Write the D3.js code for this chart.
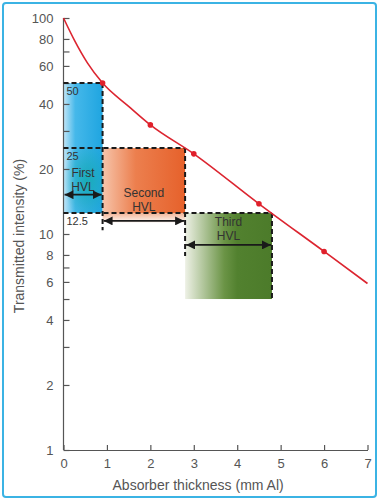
<!DOCTYPE html>
<head>
    <meta charset="utf-8">
    <script src="https://d3js.org/d3.v7.min.js"></script>
    <style>
        body { margin: 0; background: #fff; }
        text { font-family: "Liberation Sans", Arial, sans-serif; }
        .axis path, .axis line { stroke: #555; stroke-width: 1.2px; }
        .axis text { fill: #555; font-size: 13px; }
    </style>
</head>
<body>
<div id="chart"></div>
<script>
    // curve (thickness in mm Al, transmitted %)
    var curveX = [0, 0.25, 0.55, 0.9, 1.5, 2, 3, 4.5, 6, 7];
    var curveY = [100, 79, 62, 50, 39, 32, 23.5, 13.8, 8.3, 5.9];
    var markX = [0.9, 2, 3, 4.5, 6];
    var markY = [50, 32, 23.5, 13.8, 8.3];

    // half value layers
    var hvlNames = ["First", "Second", "Third"];
    var hvlStart = [0, 0.9, 2.8];
    var hvlEnd = [0.9, 2.8, 4.8];
    var hvlTop = [50, 25, 12.5];
    var hvlBottom = [12.5, 12.5, 5];
    var hvlDrop = [10.4, 7.9, 5];
    var hvlArrowY = [15.2, 11.5, 8.9];
    var hvlLabelY = [18.4, 14.9, 10.9];
    var levelLabels = ["50", "25", "12.5"];
    var levelValues = [50, 25, 12.5];

    var xTicks = [0, 1, 2, 3, 4, 5, 6, 7];
    var yLabels = [1, 2, 4, 6, 8, 10, 20, 40, 60, 80, 100];

    var width = 381, height = 500;
    var svg = d3.select("#chart").append("svg")
        .attr("width", width).attr("height", height);

    // light blue frame
    svg.append("rect")
        .attr("x", 3).attr("y", 3).attr("width", 373).attr("height", 494)
        .attr("rx", 3)
        .attr("fill", "#fff").attr("stroke", "#3bb3e4").attr("stroke-width", 2);

    var x = d3.scaleLinear().domain([0, 7]).range([63.5, 367.5]);
    var y = d3.scaleLog().domain([1, 100]).range([450, 18]);

    var defs = svg.append("defs");
    function grad(id, vertical, stops) {
        var g = defs.append("linearGradient").attr("id", id)
            .attr("x1", "0").attr("y1", "0")
            .attr("x2", vertical ? "0" : "1").attr("y2", vertical ? "1" : "0");
        stops.forEach(function (s) {
            g.append("stop").attr("offset", s[0]).attr("stop-color", s[1])
                .attr("stop-opacity", s[2] == null ? 1 : s[2]);
        });
    }
    grad("g0", false, [[0, "#c2e6f7"], [0.3, "#45b8ea"], [1, "#1fa5e0"]]);
    grad("g1", false, [[0, "#f6c4aa"], [0.4, "#ec7f4e"], [1, "#e6612b"]]);
    grad("g2", false, [[0, "#eef1e6"], [0.45, "#6b9446"], [0.6, "#52812f"], [1, "#4c7b2a"]]);
    grad("fade1", true, [[0, "#f0a07a", 0.8], [1, "#f0a07a", 0]]);
    var teal = defs.append("radialGradient").attr("id", "teal")
        .attr("cx", "0.6").attr("cy", "0.5").attr("r", "0.6");
    teal.append("stop").attr("offset", 0).attr("stop-color", "#14aab0").attr("stop-opacity", 0.85);
    teal.append("stop").attr("offset", 1).attr("stop-color", "#14aab0").attr("stop-opacity", 0);

    var fills = ["url(#g0)", "url(#g1)", "url(#g2)"];
    var boxes = svg.append("g");
    hvlNames.forEach(function (n, i) {
        boxes.append("rect")
            .attr("x", x(hvlStart[i])).attr("y", y(hvlTop[i]))
            .attr("width", x(hvlEnd[i]) - x(hvlStart[i]))
            .attr("height", y(hvlBottom[i]) - y(hvlTop[i]))
            .attr("fill", fills[i]);
    });
    // teal tint in lower part of first box
    boxes.append("rect")
        .attr("x", x(0)).attr("y", y(25))
        .attr("width", x(0.9) - x(0)).attr("height", y(12.5) - y(25))
        .attr("fill", "url(#teal)");
    // faded orange strip below second box
    boxes.append("rect")
        .attr("x", x(0.9)).attr("y", y(12.5))
        .attr("width", x(2.8) - x(0.9)).attr("height", y(11.2) - y(12.5))
        .attr("fill", "url(#fade1)");

    // axes
    var xAxis = d3.axisBottom(x).tickValues(xTicks).tickSizeInner(-5).tickSizeOuter(0)
        .tickPadding(9).tickFormat(d3.format("d"));
    var gx = svg.append("g").attr("class", "axis")
        .attr("transform", "translate(0," + y(1) + ")").call(xAxis);
    gx.selectAll("text").attr("dy", "0.71em");

    var yTickVals = [];
    [1, 10].forEach(function (d) {
        for (var k = 1; k <= 10; k++) {
            if (d === 10 && k === 1) continue;
            if (k === 9) continue;
            yTickVals.push(d * k);
        }
    });
    var yAxis = d3.axisLeft(y).tickValues(yTickVals).tickSizeInner(-6).tickSizeOuter(0).tickPadding(10)
        .tickFormat(function (d) { return yLabels.indexOf(d) >= 0 ? d3.format("d")(d) : ""; });
    var gy = svg.append("g").attr("class", "axis")
        .attr("transform", "translate(" + x(0) + ",0)").call(yAxis);
    gy.select(".domain").attr("d", "M0," + y(100) + "V" + y(1));

    svg.append("text")
        .attr("x", x(3.1)).attr("y", 490)
        .attr("text-anchor", "middle").attr("fill", "#555").attr("font-size", 14)
        .text("Absorber thickness (mm Al)");
    svg.append("text")
        .attr("transform", "translate(24," + 236 + ") rotate(-90)")
        .attr("text-anchor", "middle").attr("fill", "#555").attr("font-size", 14)
        .text("Transmitted intensity (%)");

    // dashed guide lines
    var dash = svg.append("g").attr("stroke", "#1a1a1a").attr("stroke-width", 2)
        .attr("stroke-dasharray", "5,3").attr("fill", "none");
    hvlNames.forEach(function (n, i) {
        dash.append("line")
            .attr("x1", x(0)).attr("x2", x(hvlEnd[i]))
            .attr("y1", y(hvlTop[i])).attr("y2", y(hvlTop[i]));
        dash.append("line")
            .attr("x1", x(hvlEnd[i])).attr("x2", x(hvlEnd[i]))
            .attr("y1", y(hvlTop[i])).attr("y2", y(hvlDrop[i]));
    });

    // level labels
    levelLabels.forEach(function (t, i) {
        svg.append("text")
            .attr("x", x(0) + 3).attr("y", y(levelValues[i]) + 12)
            .attr("fill", "#333").attr("font-size", 11)
            .text(t);
    });

    // double arrows and labels
    defs.append("marker").attr("id", "ah").attr("viewBox", "0 0 10 10")
        .attr("refX", 10).attr("refY", 5).attr("markerWidth", 5).attr("markerHeight", 5)
        .attr("markerUnits", "strokeWidth")
        .attr("orient", "auto-start-reverse")
        .append("path").attr("d", "M0,0L10,5L0,10Z").attr("fill", "#1a1a1a");
    var arrowG = svg.append("g");
    hvlNames.forEach(function (n, i) {
        arrowG.append("line")
            .attr("x1", x(hvlStart[i]) + 1).attr("x2", x(hvlEnd[i]) - 1)
            .attr("y1", y(hvlArrowY[i])).attr("y2", y(hvlArrowY[i]))
            .attr("stroke", "#1a1a1a").attr("stroke-width", 1.8)
            .attr("marker-start", "url(#ah)").attr("marker-end", "url(#ah)");
        var cx = (x(hvlStart[i]) + x(hvlEnd[i])) / 2;
        var ty = y(hvlLabelY[i]);
        var t = arrowG.append("text")
            .attr("text-anchor", "middle").attr("fill", "#333").attr("font-size", 12);
        t.append("tspan").attr("x", cx).attr("y", ty).text(n);
        t.append("tspan").attr("x", cx).attr("y", ty + 14).text("HVL");
    });

    // attenuation curve
    var pts = curveX.map(function (d, i) { return [d, curveY[i]]; });
    var line = d3.line()
        .x(function (d) { return x(d[0]); })
        .y(function (d) { return y(d[1]); })
        .curve(d3.curveMonotoneX);
    svg.append("path").datum(pts)
        .attr("d", line).attr("fill", "none")
        .attr("stroke", "#dc2530").attr("stroke-width", 1.6);
    svg.selectAll(".pt").data(markX).enter().append("circle")
        .attr("cx", function (d) { return x(d); })
        .attr("cy", function (d, i) { return y(markY[i]); })
        .attr("r", 2.8).attr("fill", "#e0202b");
</script>
</body>
